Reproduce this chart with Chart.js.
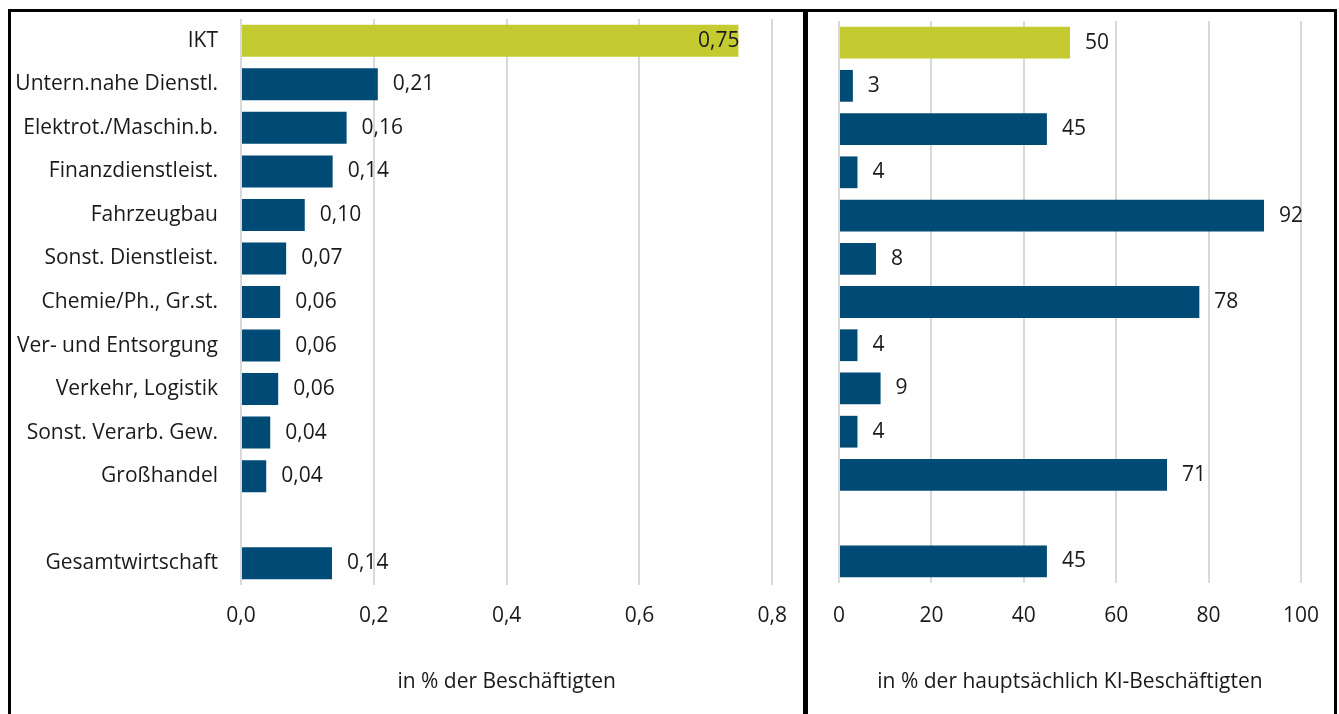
<!DOCTYPE html>
<html lang="de">
<head>
<meta charset="utf-8">
<script src="https://cdn.jsdelivr.net/npm/chart.js@4.4.1/dist/chart.umd.min.js"></script>
<style>
   html, body { margin: 0; padding: 0; background: #fff; }
   body { width: 1339px; height: 714px; position: relative; overflow: hidden; }
   canvas { position: absolute; top: 0; }
   #left { left: 0; }
   #right { left: 805px; }
   .line { position: absolute; background: #000; }
</style>
</head>
<body>
<canvas id="left" width="805" height="714"></canvas>
<canvas id="right" width="534" height="714"></canvas>
<div class="line" style="left:8px;top:9px;width:1329px;height:3px"></div>
<div class="line" style="left:8px;top:9px;width:3px;height:705px"></div>
<div class="line" style="left:803px;top:9px;width:5px;height:705px"></div>
<div class="line" style="left:1334px;top:9px;width:3px;height:705px"></div>
<script>
const categories = ['IKT', 'Untern.nahe Dienstl.', 'Elektrot./Maschin.b.', 'Finanzdienstleist.', 'Fahrzeugbau',
   'Sonst. Dienstleist.', 'Chemie/Ph., Gr.st.', 'Ver- und Entsorgung', 'Verkehr, Logistik',
   'Sonst. Verarb. Gew.', 'Großhandel', '', 'Gesamtwirtschaft'];
// share of all employees (%)
const shareEmployees = [0.749, 0.206, 0.159, 0.138, 0.096, 0.068, 0.059, 0.059, 0.056, 0.044, 0.038, null, 0.137];
// share of mainly-AI employees (%)
const shareAiEmployees = [50, 3, 45, 4, 92, 8, 78, 4, 9, 4, 71, null, 45];
const leftTicks = [0, 0.2, 0.4, 0.6, 0.8];
const rightTicks = [0, 20, 40, 60, 80, 100];

const NAVY = '#004B76';
const LIME = '#C4CB30';
const TEXT = '#1a1a1a';
const FONT = { family: "'Open Sans', 'Noto Sans', sans-serif", size: 21 };

const barColors = categories.map((c, i) => i === 0 ? LIME : NAVY);

// value labels at bar end, moved inside when they run clearly past the plot
const valueLabels = {
   id: 'valueLabels',
   afterDatasetsDraw(chart, args, opts) {
      const ctx = chart.ctx;
      const ds = chart.data.datasets[0];
      const meta = chart.getDatasetMeta(0);
      ctx.save();
      ctx.font = FONT.size + 'px ' + FONT.family;
      ctx.fillStyle = TEXT;
      ctx.textBaseline = 'middle';
      meta.data.forEach((bar, i) => {
         const v = ds.data[i];
         if (v === null || v === undefined) return;
         const txt = opts.format(v);
         const w = ctx.measureText(txt).width;
         let x = bar.x + 15;
         if (x + w > chart.chartArea.right + 10) {
            ctx.textAlign = 'right';
            x = bar.x + 1;
         } else {
            ctx.textAlign = 'left';
         }
         ctx.fillText(txt, x, bar.y);
      });
      ctx.restore();
   }
};

function makeChart(canvas, data, ticks, fmtTick, fmtValue, title, showCats, pad, axisH, tickPad) {
   return new Chart(canvas, {
      type: 'bar',
      data: {
         labels: categories,
         datasets: [{
            data: data,
            backgroundColor: barColors,
            borderWidth: 0,
            categoryPercentage: 1,
            barPercentage: 0.735
         }]
      },
      options: {
         indexAxis: 'y',
         responsive: false,
         animation: false,
         layout: { padding: pad },
         scales: {
            x: {
               min: ticks[0],
               max: ticks[ticks.length - 1],
               afterFit: s => { s.height = axisH; },
               afterBuildTicks: s => { s.ticks = ticks.map(v => ({ value: v })); },
               ticks: {
                  padding: tickPad,
                  color: TEXT,
                  font: FONT,
                  maxRotation: 0,
                  callback: v => fmtTick(v)
               },
               grid: { color: '#d9d9d9', lineWidth: 2, drawTicks: false },
               border: { display: false },
               title: {
                  display: true,
                  text: title,
                  color: TEXT,
                  font: FONT,
                  padding: { top: 0, bottom: 10 }
               }
            },
            y: {
               display: showCats,
               afterFit: s => { s.width = showCats ? 241 : 0; },
               ticks: { padding: 0, color: TEXT, font: FONT, autoSkip: false },
               grid: { display: false, drawTicks: true, tickLength: 23 },
               border: { display: false }
            }
         },
         plugins: {
            legend: { display: false },
            tooltip: { enabled: false },
            valueLabels: { format: fmtValue }
         }
      },
      plugins: [valueLabels]
   });
}

makeChart(document.getElementById('left'), shareEmployees, leftTicks,
   v => v.toFixed(1).replace('.', ','),
   v => v.toFixed(2).replace('.', ','),
   'in % der Beschäftigten', true,
   { top: 19, left: 0, right: 31, bottom: 9 }, 120, 18);

makeChart(document.getElementById('right'), shareAiEmployees, rightTicks,
   v => String(v),
   v => String(v),
   'in % der hauptsächlich KI-Beschäftigten', false,
   { top: 21, left: 34, right: 36, bottom: 9 }, 122, 20);
</script>
</body>
</html>
